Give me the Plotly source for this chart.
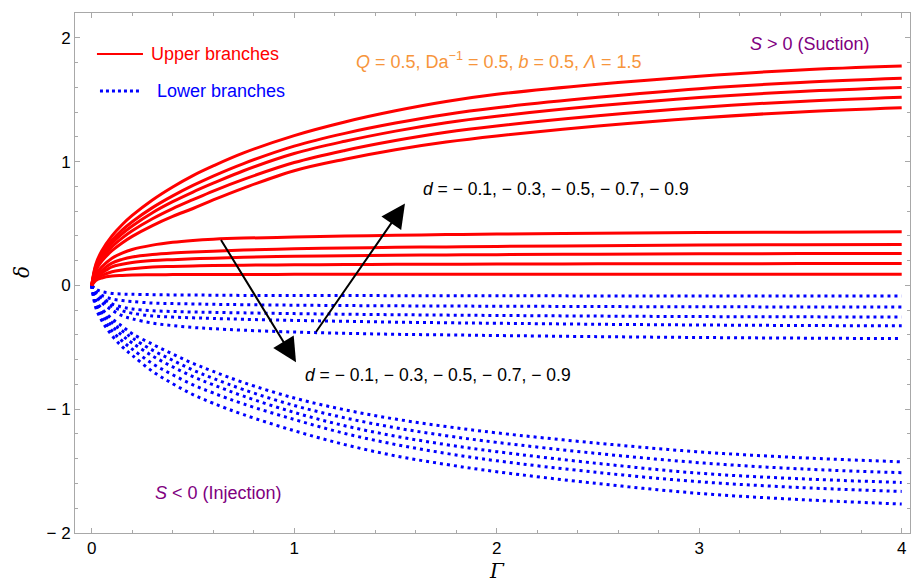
import plotly.graph_objects as go

# Γ sample points shared by every branch
gamma = [0, 0.02, 0.05, 0.1, 0.15, 0.2, 0.3, 0.4, 0.5, 0.6, 0.75,
         1, 1.25, 1.5, 1.75, 2, 2.5, 3, 3.5, 4]

# Upper branches (solid red): rising family, d = -0.1 ... -0.9
upper_rising = [
    [0, 0.17, 0.28, 0.40, 0.49, 0.565, 0.69, 0.795, 0.887, 0.965, 1.07,
     1.21, 1.32, 1.41, 1.485, 1.543, 1.625, 1.69, 1.74, 1.772],
    [0, 0.155, 0.255, 0.364, 0.446, 0.514, 0.628, 0.723, 0.807, 0.883, 0.984,
     1.125, 1.228, 1.311, 1.381, 1.435, 1.519, 1.589, 1.639, 1.673],
    [0, 0.145, 0.238, 0.34, 0.417, 0.48, 0.587, 0.676, 0.754, 0.825, 0.926,
     1.065, 1.164, 1.246, 1.314, 1.366, 1.45, 1.518, 1.566, 1.598],
    [0, 0.133, 0.218, 0.312, 0.382, 0.441, 0.538, 0.62, 0.692, 0.762, 0.856,
     0.992, 1.09, 1.17, 1.237, 1.288, 1.37, 1.437, 1.486, 1.519],
    [0, 0.119, 0.196, 0.28, 0.343, 0.396, 0.483, 0.557, 0.621, 0.69, 0.786,
     0.926, 1.019, 1.096, 1.158, 1.207, 1.287, 1.352, 1.401, 1.434],
]
# Upper branches (solid red): flat family
upper_flat = [
    [0, 0.09, 0.15, 0.22, 0.26, 0.29, 0.325, 0.348, 0.363, 0.373, 0.382,
     0.39, 0.398, 0.405, 0.41, 0.415, 0.422, 0.427, 0.43, 0.433],
    [0, 0.07, 0.12, 0.18, 0.21, 0.23, 0.25, 0.262, 0.27, 0.276, 0.285,
     0.295, 0.302, 0.307, 0.311, 0.315, 0.321, 0.326, 0.329, 0.331],
    [0, 0.06, 0.10, 0.15, 0.17, 0.185, 0.20, 0.208, 0.215, 0.22, 0.227,
     0.235, 0.24, 0.243, 0.246, 0.248, 0.252, 0.255, 0.257, 0.258],
    [0, 0.05, 0.08, 0.11, 0.125, 0.135, 0.148, 0.153, 0.157, 0.16, 0.163,
     0.166, 0.168, 0.17, 0.171, 0.172, 0.174, 0.175, 0.176, 0.177],
    [0, 0.04, 0.06, 0.075, 0.08, 0.083, 0.086, 0.087, 0.088, 0.088, 0.088,
     0.089, 0.089, 0.089, 0.089, 0.089, 0.089, 0.089, 0.089, 0.089],
]
# Lower branches (dotted blue): flat family
lower_flat = [
    [0, -0.03, -0.05, -0.065, -0.07, -0.072, -0.075, -0.077, -0.078, -0.079, -0.081,
     -0.082, -0.082, -0.083, -0.083, -0.084, -0.085, -0.085, -0.086, -0.086],
    [0, -0.05, -0.08, -0.11, -0.122, -0.13, -0.143, -0.147, -0.15, -0.153, -0.156,
     -0.16, -0.163, -0.165, -0.167, -0.168, -0.171, -0.173, -0.174, -0.175],
    [0, -0.07, -0.10, -0.15, -0.175, -0.19, -0.205, -0.211, -0.215, -0.218, -0.222,
     -0.228, -0.233, -0.237, -0.24, -0.243, -0.248, -0.252, -0.254, -0.256],
    [0, -0.08, -0.12, -0.17, -0.205, -0.225, -0.247, -0.256, -0.262, -0.267, -0.274,
     -0.283, -0.29, -0.297, -0.302, -0.306, -0.314, -0.32, -0.324, -0.327],
    [0, -0.09, -0.14, -0.20, -0.245, -0.27, -0.305, -0.325, -0.34, -0.35, -0.362,
     -0.377, -0.387, -0.395, -0.40, -0.405, -0.414, -0.421, -0.426, -0.43],
]
# Lower branches (dotted blue): falling family
lower_falling = [
    [0, -0.12, -0.19, -0.27, -0.33, -0.39, -0.475, -0.555, -0.63, -0.695, -0.785,
     -0.91, -1.005, -1.08, -1.14, -1.191, -1.275, -1.345, -1.392, -1.425],
    [0, -0.133, -0.211, -0.30, -0.366, -0.425, -0.523, -0.605, -0.684, -0.751, -0.842,
     -0.97, -1.07, -1.15, -1.214, -1.268, -1.358, -1.432, -1.482, -1.513],
    [0, -0.146, -0.232, -0.329, -0.403, -0.465, -0.57, -0.658, -0.737, -0.803, -0.895,
     -1.026, -1.134, -1.218, -1.286, -1.343, -1.438, -1.517, -1.562, -1.592],
    [0, -0.163, -0.258, -0.367, -0.449, -0.515, -0.632, -0.722, -0.803, -0.869, -0.958,
     -1.083, -1.196, -1.285, -1.357, -1.417, -1.511, -1.586, -1.633, -1.664],
    [0, -0.18, -0.285, -0.405, -0.495, -0.565, -0.694, -0.794, -0.882, -0.952, -1.044,
     -1.174, -1.286, -1.377, -1.446, -1.505, -1.601, -1.68, -1.73, -1.766],
]

x_ticks = [0, 1, 2, 3, 4]
x_ticklabels = ["0", "1", "2", "3", "4"]
y_ticks = [-2, -1, 0, 1, 2]
y_ticklabels = ["− 2", "− 1", "0", "1", "2"]

RED = "#FF0000"
BLUE = "#0000FF"
PURPLE = "#800080"
ORANGE = "#F7953B"
FONT = "Liberation Sans, Arial, sans-serif"
AXIS_GRAY = "#A8A8A8"
TXT = 18

fig = go.Figure()

for ys in lower_flat + lower_falling:
    fig.add_trace(go.Scatter(
        x=gamma, y=ys, mode="lines", showlegend=False, hoverinfo="skip",
        line=dict(color=BLUE, width=3, dash="3px,4px", shape="spline", smoothing=1.0),
    ))
for ys in upper_rising + upper_flat:
    fig.add_trace(go.Scatter(
        x=gamma, y=ys, mode="lines", showlegend=False, hoverinfo="skip",
        line=dict(color=RED, width=3, shape="spline", smoothing=1.0),
    ))

# Hand-drawn legend keys
fig.add_shape(type="line", xref="paper", yref="paper", x0=0.0263, x1=0.0814, y0=0.921, y1=0.921,
              line=dict(color=RED, width=2))
fig.add_shape(type="line", xref="paper", yref="paper", x0=0.0299, x1=0.0802, y0=0.850, y1=0.850,
              line=dict(color=BLUE, width=3, dash="3px,3px"))

annotations = [
    dict(text="Upper branches", xref="paper", yref="paper", x=0.0886, y=0.921,
         xanchor="left", yanchor="middle", font=dict(color=RED, size=TXT)),
    dict(text="Lower branches", xref="paper", yref="paper", x=0.0958, y=0.850,
         xanchor="left", yanchor="middle", font=dict(color=BLUE, size=TXT)),
    dict(text="<i>Q</i> = 0.5, Da<sup>−1</sup> = 0.5, <i>b</i> = 0.5, <i>Λ</i> = 1.5",
         x=1.295, y=1.815, xanchor="left", yanchor="middle", font=dict(color=ORANGE, size=TXT)),
    dict(text="<i>S</i> > 0 (Suction)", x=3.241, y=1.952, xanchor="left", yanchor="middle",
         font=dict(color=PURPLE, size=TXT)),
    dict(text="<i>S</i> < 0 (Injection)", x=0.303, y=-1.677, xanchor="left", yanchor="middle",
         font=dict(color=PURPLE, size=TXT)),
    dict(text="<i>d</i> = − 0.1, − 0.3, − 0.5, − 0.7, − 0.9", x=1.626, y=0.782,
         xanchor="left", yanchor="middle", font=dict(color="black", size=17.5)),
    dict(text="<i>d</i> = − 0.1, − 0.3, − 0.5, − 0.7, − 0.9", x=1.043, y=-0.726,
         xanchor="left", yanchor="middle", font=dict(color="black", size=17.5)),
    # arrows indicating the direction of increasing |d|
    dict(text="", x=1.009, y=-0.621, ax=0.634, ay=0.379, axref="x", ayref="y",
         showarrow=True, arrowhead=2, arrowsize=2.4, arrowwidth=2, arrowcolor="black"),
    dict(text="", x=1.547, y=0.661, ax=1.103, ay=-0.387, axref="x", ayref="y",
         showarrow=True, arrowhead=2, arrowsize=2.4, arrowwidth=2, arrowcolor="black"),
    # axis titles
    dict(text="<i>δ</i>", xref="paper", yref="paper", x=-0.0635, y=0.502, textangle=-90,
         xanchor="center", yanchor="middle", font=dict(color="black", size=20, family="DejaVu Serif")),
    dict(text="<i>Γ</i>", xref="paper", yref="paper", x=0.505, y=-0.1,
         xanchor="center", yanchor="bottom", font=dict(color="black", size=20, family="DejaVu Serif")),
]
for a in annotations:
    a.setdefault("showarrow", False)
    fig.add_annotation(**a)

axis_common = dict(
    showgrid=False, zeroline=False, showline=True, linecolor=AXIS_GRAY, linewidth=1,
    mirror="ticks", ticks="inside", tickcolor=AXIS_GRAY, tickwidth=1,
    tickfont=dict(color="black", size=17, family=FONT),
)
fig.update_xaxes(
    range=[-0.0825, 4.041], tickmode="array", tickvals=x_ticks, ticktext=x_ticklabels,
    ticklen=5, minor=dict(dtick=0.2, ticks="inside", ticklen=3, tickcolor=AXIS_GRAY, showgrid=False),
    **axis_common,
)
fig.update_yaxes(
    range=[-2, 2.2], tickmode="array", tickvals=y_ticks, ticktext=y_ticklabels,
    ticklen=5, minor=dict(dtick=0.2, ticks="inside", ticklen=3, tickcolor=AXIS_GRAY, showgrid=False),
    **axis_common,
)

fig.update_layout(
    width=911, height=586,
    margin=dict(l=75, r=1, t=13, b=53),
    plot_bgcolor="white", paper_bgcolor="white",
    font=dict(family=FONT, color="black"),
    showlegend=False,
)

fig.write_html("out.html")
